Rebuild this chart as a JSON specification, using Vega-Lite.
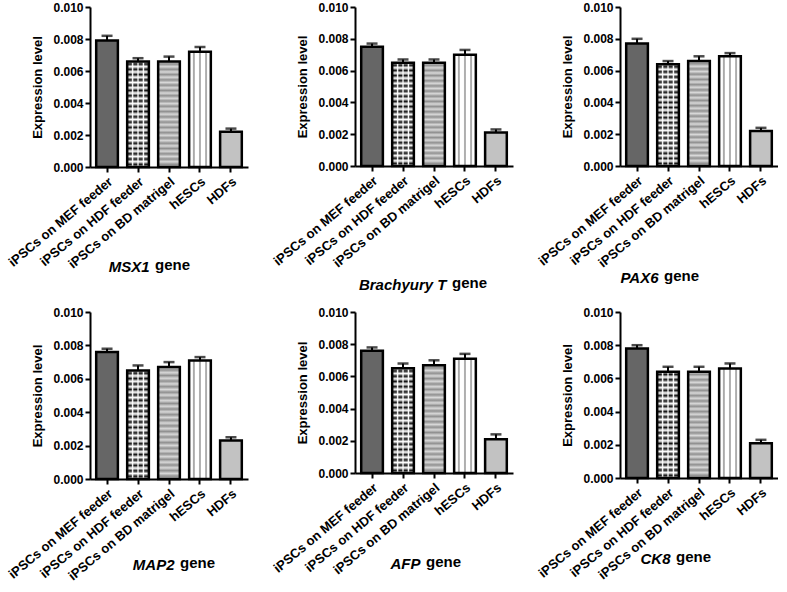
{
"$schema": "https://vega.github.io/schema/vega-lite/v6.json",
"background": "white",
"padding": {"left": 6, "top": 1, "right": 0, "bottom": 0},
"data": {"values": [
{"gene":"MSX1","group":"iPSCs on MEF feeder","value":0.0079,"upper":0.0082},
{"gene":"MSX1","group":"iPSCs on HDF feeder","value":0.0066,"upper":0.0068},
{"gene":"MSX1","group":"iPSCs on BD matrigel","value":0.0066,"upper":0.0069},
{"gene":"MSX1","group":"hESCs","value":0.0072,"upper":0.0075},
{"gene":"MSX1","group":"HDFs","value":0.0022,"upper":0.0024},
{"gene":"Brachyury T","group":"iPSCs on MEF feeder","value":0.0075,"upper":0.0077},
{"gene":"Brachyury T","group":"iPSCs on HDF feeder","value":0.0065,"upper":0.0067},
{"gene":"Brachyury T","group":"iPSCs on BD matrigel","value":0.0065,"upper":0.0067},
{"gene":"Brachyury T","group":"hESCs","value":0.0070,"upper":0.0073},
{"gene":"Brachyury T","group":"HDFs","value":0.0021,"upper":0.0023},
{"gene":"PAX6","group":"iPSCs on MEF feeder","value":0.0077,"upper":0.0080},
{"gene":"PAX6","group":"iPSCs on HDF feeder","value":0.0064,"upper":0.0066},
{"gene":"PAX6","group":"iPSCs on BD matrigel","value":0.0066,"upper":0.0069},
{"gene":"PAX6","group":"hESCs","value":0.0069,"upper":0.0071},
{"gene":"PAX6","group":"HDFs","value":0.0022,"upper":0.0024},
{"gene":"MAP2","group":"iPSCs on MEF feeder","value":0.0076,"upper":0.0078},
{"gene":"MAP2","group":"iPSCs on HDF feeder","value":0.0065,"upper":0.0068},
{"gene":"MAP2","group":"iPSCs on BD matrigel","value":0.0067,"upper":0.0070},
{"gene":"MAP2","group":"hESCs","value":0.0071,"upper":0.0073},
{"gene":"MAP2","group":"HDFs","value":0.0023,"upper":0.0025},
{"gene":"AFP","group":"iPSCs on MEF feeder","value":0.0076,"upper":0.0078},
{"gene":"AFP","group":"iPSCs on HDF feeder","value":0.0065,"upper":0.0068},
{"gene":"AFP","group":"iPSCs on BD matrigel","value":0.0067,"upper":0.0070},
{"gene":"AFP","group":"hESCs","value":0.0071,"upper":0.0074},
{"gene":"AFP","group":"HDFs","value":0.0021,"upper":0.0024},
{"gene":"CK8","group":"iPSCs on MEF feeder","value":0.0078,"upper":0.0080},
{"gene":"CK8","group":"iPSCs on HDF feeder","value":0.0064,"upper":0.0067},
{"gene":"CK8","group":"iPSCs on BD matrigel","value":0.0064,"upper":0.0067},
{"gene":"CK8","group":"hESCs","value":0.0066,"upper":0.0069},
{"gene":"CK8","group":"HDFs","value":0.0021,"upper":0.0023}
]},
"spacing": 14,
"vconcat": [
{"spacing": 23, "hconcat": [
{"width": 158, "height": 160,
 "transform": [{"filter": "datum.gene === 'MSX1'"}],
 "title": {"text": "gene", "dx": 65, "dy": 276},
 "encoding": {
  "x": {"field": "group", "type": "nominal", "scale": {"domain": ["iPSCs on MEF feeder","iPSCs on HDF feeder","iPSCs on BD matrigel","hESCs","HDFs"]}, "axis": {"title": "MSX1", "titleX": 59, "titleY": 104}},
  "y": {"field": "value", "type": "quantitative", "scale": {"domain": [0, 0.01], "nice": false}, "axis": {"title": "Expression level", "values": [0, 0.002, 0.004, 0.006, 0.008, 0.01], "format": ".3f"}}
 },
 "layer": [
  {"mark":{"type":"bar"},"encoding":{"color":{"field":"group","type":"nominal","scale":{"domain":["iPSCs on MEF feeder","iPSCs on HDF feeder","iPSCs on BD matrigel","hESCs","HDFs"],"range":["#666666","#ffffff","#bdbdbd","#ffffff","#c2c2c2"]},"legend":null}}},
  {"transform":[{"filter":"datum.group === 'iPSCs on HDF feeder'"}],"mark":{"type":"bar","fill":{"gradient":"linear","x1":0,"y1":0,"x2":0,"y2":1,"stops":[{"offset":0,"color":"#ffffff"},{"offset":0.025,"color":"#111111"},{"offset":0.05,"color":"#ffffff"},{"offset":0.075,"color":"#111111"},{"offset":0.1,"color":"#ffffff"},{"offset":0.125,"color":"#111111"},{"offset":0.15,"color":"#ffffff"},{"offset":0.175,"color":"#111111"},{"offset":0.2,"color":"#ffffff"},{"offset":0.225,"color":"#111111"},{"offset":0.25,"color":"#ffffff"},{"offset":0.275,"color":"#111111"},{"offset":0.3,"color":"#ffffff"},{"offset":0.325,"color":"#111111"},{"offset":0.35,"color":"#ffffff"},{"offset":0.375,"color":"#111111"},{"offset":0.4,"color":"#ffffff"},{"offset":0.425,"color":"#111111"},{"offset":0.45,"color":"#ffffff"},{"offset":0.475,"color":"#111111"},{"offset":0.5,"color":"#ffffff"},{"offset":0.525,"color":"#111111"},{"offset":0.55,"color":"#ffffff"},{"offset":0.575,"color":"#111111"},{"offset":0.6,"color":"#ffffff"},{"offset":0.625,"color":"#111111"},{"offset":0.65,"color":"#ffffff"},{"offset":0.675,"color":"#111111"},{"offset":0.7,"color":"#ffffff"},{"offset":0.725,"color":"#111111"},{"offset":0.75,"color":"#ffffff"},{"offset":0.775,"color":"#111111"},{"offset":0.8,"color":"#ffffff"},{"offset":0.825,"color":"#111111"},{"offset":0.85,"color":"#ffffff"},{"offset":0.875,"color":"#111111"},{"offset":0.9,"color":"#ffffff"},{"offset":0.925,"color":"#111111"},{"offset":0.95,"color":"#ffffff"},{"offset":0.975,"color":"#111111"},{"offset":1,"color":"#ffffff"}]}}},
  {"transform":[{"filter":"datum.group === 'iPSCs on HDF feeder'"}],"mark":{"type":"bar","fill":{"gradient":"linear","x1":0,"y1":0,"x2":1,"y2":0,"stops":[{"offset":0,"color":"rgba(255,255,255,1)"},{"offset":0.06,"color":"rgba(255,255,255,0)"},{"offset":0.19,"color":"rgba(255,255,255,0)"},{"offset":0.25,"color":"rgba(255,255,255,1)"},{"offset":0.31,"color":"rgba(255,255,255,0)"},{"offset":0.44,"color":"rgba(255,255,255,0)"},{"offset":0.5,"color":"rgba(255,255,255,1)"},{"offset":0.56,"color":"rgba(255,255,255,0)"},{"offset":0.69,"color":"rgba(255,255,255,0)"},{"offset":0.75,"color":"rgba(255,255,255,1)"},{"offset":0.81,"color":"rgba(255,255,255,0)"},{"offset":0.94,"color":"rgba(255,255,255,0)"},{"offset":1,"color":"rgba(255,255,255,1)"}]}}},
  {"transform":[{"filter":"datum.group === 'iPSCs on BD matrigel'"}],"mark":{"type":"bar","fill":{"gradient":"linear","x1":0,"y1":0,"x2":0,"y2":1,"stops":[{"offset":0,"color":"#d8d8d8"},{"offset":0.025,"color":"#909090"},{"offset":0.05,"color":"#d8d8d8"},{"offset":0.075,"color":"#909090"},{"offset":0.1,"color":"#d8d8d8"},{"offset":0.125,"color":"#909090"},{"offset":0.15,"color":"#d8d8d8"},{"offset":0.175,"color":"#909090"},{"offset":0.2,"color":"#d8d8d8"},{"offset":0.225,"color":"#909090"},{"offset":0.25,"color":"#d8d8d8"},{"offset":0.275,"color":"#909090"},{"offset":0.3,"color":"#d8d8d8"},{"offset":0.325,"color":"#909090"},{"offset":0.35,"color":"#d8d8d8"},{"offset":0.375,"color":"#909090"},{"offset":0.4,"color":"#d8d8d8"},{"offset":0.425,"color":"#909090"},{"offset":0.45,"color":"#d8d8d8"},{"offset":0.475,"color":"#909090"},{"offset":0.5,"color":"#d8d8d8"},{"offset":0.525,"color":"#909090"},{"offset":0.55,"color":"#d8d8d8"},{"offset":0.575,"color":"#909090"},{"offset":0.6,"color":"#d8d8d8"},{"offset":0.625,"color":"#909090"},{"offset":0.65,"color":"#d8d8d8"},{"offset":0.675,"color":"#909090"},{"offset":0.7,"color":"#d8d8d8"},{"offset":0.725,"color":"#909090"},{"offset":0.75,"color":"#d8d8d8"},{"offset":0.775,"color":"#909090"},{"offset":0.8,"color":"#d8d8d8"},{"offset":0.825,"color":"#909090"},{"offset":0.85,"color":"#d8d8d8"},{"offset":0.875,"color":"#909090"},{"offset":0.9,"color":"#d8d8d8"},{"offset":0.925,"color":"#909090"},{"offset":0.95,"color":"#d8d8d8"},{"offset":0.975,"color":"#909090"},{"offset":1,"color":"#d8d8d8"}]}}},
  {"transform":[{"filter":"datum.group === 'hESCs'"}],"mark":{"type":"bar","fill":{"gradient":"linear","x1":0,"y1":0,"x2":1,"y2":0,"stops":[{"offset":0,"color":"#ffffff"},{"offset":0.15,"color":"#ffffff"},{"offset":0.22,"color":"#8a8a8a"},{"offset":0.29,"color":"#ffffff"},{"offset":0.43,"color":"#ffffff"},{"offset":0.5,"color":"#8a8a8a"},{"offset":0.57,"color":"#ffffff"},{"offset":0.71,"color":"#ffffff"},{"offset":0.78,"color":"#8a8a8a"},{"offset":0.85,"color":"#ffffff"},{"offset":1,"color":"#ffffff"}]}}},
  {"mark":{"type":"bar","filled":false,"color":"#000000","strokeWidth":2.5}},
  {"mark":{"type":"rule","color":"#000000","strokeWidth":2},"encoding":{"y2":{"field":"upper"}}},
  {"mark":{"type":"tick","color":"#000000","size":11,"thickness":2.5},"encoding":{"y":{"field":"upper","type":"quantitative","scale":{"domain":[0,0.01],"nice":false},"title":"Expression level"}}}
 ]
},
{"width": 158, "height": 159,
 "transform": [{"filter": "datum.gene === 'Brachyury T'"}],
 "title": {"text": "gene", "dx": 97, "dy": 294},
 "encoding": {
  "x": {"field": "group", "type": "nominal", "scale": {"domain": ["iPSCs on MEF feeder","iPSCs on HDF feeder","iPSCs on BD matrigel","hESCs","HDFs"]}, "axis": {"title": "Brachyury T", "titleX": 91, "titleY": 123}},
  "y": {"field": "value", "type": "quantitative", "scale": {"domain": [0, 0.01], "nice": false}, "axis": {"title": "Expression level", "values": [0, 0.002, 0.004, 0.006, 0.008, 0.01], "format": ".3f"}}
 },
 "layer": [
  {"mark":{"type":"bar"},"encoding":{"color":{"field":"group","type":"nominal","scale":{"domain":["iPSCs on MEF feeder","iPSCs on HDF feeder","iPSCs on BD matrigel","hESCs","HDFs"],"range":["#666666","#ffffff","#bdbdbd","#ffffff","#c2c2c2"]},"legend":null}}},
  {"transform":[{"filter":"datum.group === 'iPSCs on HDF feeder'"}],"mark":{"type":"bar","fill":{"gradient":"linear","x1":0,"y1":0,"x2":0,"y2":1,"stops":[{"offset":0,"color":"#ffffff"},{"offset":0.025,"color":"#111111"},{"offset":0.05,"color":"#ffffff"},{"offset":0.075,"color":"#111111"},{"offset":0.1,"color":"#ffffff"},{"offset":0.125,"color":"#111111"},{"offset":0.15,"color":"#ffffff"},{"offset":0.175,"color":"#111111"},{"offset":0.2,"color":"#ffffff"},{"offset":0.225,"color":"#111111"},{"offset":0.25,"color":"#ffffff"},{"offset":0.275,"color":"#111111"},{"offset":0.3,"color":"#ffffff"},{"offset":0.325,"color":"#111111"},{"offset":0.35,"color":"#ffffff"},{"offset":0.375,"color":"#111111"},{"offset":0.4,"color":"#ffffff"},{"offset":0.425,"color":"#111111"},{"offset":0.45,"color":"#ffffff"},{"offset":0.475,"color":"#111111"},{"offset":0.5,"color":"#ffffff"},{"offset":0.525,"color":"#111111"},{"offset":0.55,"color":"#ffffff"},{"offset":0.575,"color":"#111111"},{"offset":0.6,"color":"#ffffff"},{"offset":0.625,"color":"#111111"},{"offset":0.65,"color":"#ffffff"},{"offset":0.675,"color":"#111111"},{"offset":0.7,"color":"#ffffff"},{"offset":0.725,"color":"#111111"},{"offset":0.75,"color":"#ffffff"},{"offset":0.775,"color":"#111111"},{"offset":0.8,"color":"#ffffff"},{"offset":0.825,"color":"#111111"},{"offset":0.85,"color":"#ffffff"},{"offset":0.875,"color":"#111111"},{"offset":0.9,"color":"#ffffff"},{"offset":0.925,"color":"#111111"},{"offset":0.95,"color":"#ffffff"},{"offset":0.975,"color":"#111111"},{"offset":1,"color":"#ffffff"}]}}},
  {"transform":[{"filter":"datum.group === 'iPSCs on HDF feeder'"}],"mark":{"type":"bar","fill":{"gradient":"linear","x1":0,"y1":0,"x2":1,"y2":0,"stops":[{"offset":0,"color":"rgba(255,255,255,1)"},{"offset":0.06,"color":"rgba(255,255,255,0)"},{"offset":0.19,"color":"rgba(255,255,255,0)"},{"offset":0.25,"color":"rgba(255,255,255,1)"},{"offset":0.31,"color":"rgba(255,255,255,0)"},{"offset":0.44,"color":"rgba(255,255,255,0)"},{"offset":0.5,"color":"rgba(255,255,255,1)"},{"offset":0.56,"color":"rgba(255,255,255,0)"},{"offset":0.69,"color":"rgba(255,255,255,0)"},{"offset":0.75,"color":"rgba(255,255,255,1)"},{"offset":0.81,"color":"rgba(255,255,255,0)"},{"offset":0.94,"color":"rgba(255,255,255,0)"},{"offset":1,"color":"rgba(255,255,255,1)"}]}}},
  {"transform":[{"filter":"datum.group === 'iPSCs on BD matrigel'"}],"mark":{"type":"bar","fill":{"gradient":"linear","x1":0,"y1":0,"x2":0,"y2":1,"stops":[{"offset":0,"color":"#d8d8d8"},{"offset":0.025,"color":"#909090"},{"offset":0.05,"color":"#d8d8d8"},{"offset":0.075,"color":"#909090"},{"offset":0.1,"color":"#d8d8d8"},{"offset":0.125,"color":"#909090"},{"offset":0.15,"color":"#d8d8d8"},{"offset":0.175,"color":"#909090"},{"offset":0.2,"color":"#d8d8d8"},{"offset":0.225,"color":"#909090"},{"offset":0.25,"color":"#d8d8d8"},{"offset":0.275,"color":"#909090"},{"offset":0.3,"color":"#d8d8d8"},{"offset":0.325,"color":"#909090"},{"offset":0.35,"color":"#d8d8d8"},{"offset":0.375,"color":"#909090"},{"offset":0.4,"color":"#d8d8d8"},{"offset":0.425,"color":"#909090"},{"offset":0.45,"color":"#d8d8d8"},{"offset":0.475,"color":"#909090"},{"offset":0.5,"color":"#d8d8d8"},{"offset":0.525,"color":"#909090"},{"offset":0.55,"color":"#d8d8d8"},{"offset":0.575,"color":"#909090"},{"offset":0.6,"color":"#d8d8d8"},{"offset":0.625,"color":"#909090"},{"offset":0.65,"color":"#d8d8d8"},{"offset":0.675,"color":"#909090"},{"offset":0.7,"color":"#d8d8d8"},{"offset":0.725,"color":"#909090"},{"offset":0.75,"color":"#d8d8d8"},{"offset":0.775,"color":"#909090"},{"offset":0.8,"color":"#d8d8d8"},{"offset":0.825,"color":"#909090"},{"offset":0.85,"color":"#d8d8d8"},{"offset":0.875,"color":"#909090"},{"offset":0.9,"color":"#d8d8d8"},{"offset":0.925,"color":"#909090"},{"offset":0.95,"color":"#d8d8d8"},{"offset":0.975,"color":"#909090"},{"offset":1,"color":"#d8d8d8"}]}}},
  {"transform":[{"filter":"datum.group === 'hESCs'"}],"mark":{"type":"bar","fill":{"gradient":"linear","x1":0,"y1":0,"x2":1,"y2":0,"stops":[{"offset":0,"color":"#ffffff"},{"offset":0.15,"color":"#ffffff"},{"offset":0.22,"color":"#8a8a8a"},{"offset":0.29,"color":"#ffffff"},{"offset":0.43,"color":"#ffffff"},{"offset":0.5,"color":"#8a8a8a"},{"offset":0.57,"color":"#ffffff"},{"offset":0.71,"color":"#ffffff"},{"offset":0.78,"color":"#8a8a8a"},{"offset":0.85,"color":"#ffffff"},{"offset":1,"color":"#ffffff"}]}}},
  {"mark":{"type":"bar","filled":false,"color":"#000000","strokeWidth":2.5}},
  {"mark":{"type":"rule","color":"#000000","strokeWidth":2},"encoding":{"y2":{"field":"upper"}}},
  {"mark":{"type":"tick","color":"#000000","size":11,"thickness":2.5},"encoding":{"y":{"field":"upper","type":"quantitative","scale":{"domain":[0,0.01],"nice":false},"title":"Expression level"}}}
 ]
},
{"width": 158, "height": 159,
 "transform": [{"filter": "datum.gene === 'PAX6'"}],
 "title": {"text": "gene", "dx": 44, "dy": 287},
 "encoding": {
  "x": {"field": "group", "type": "nominal", "scale": {"domain": ["iPSCs on MEF feeder","iPSCs on HDF feeder","iPSCs on BD matrigel","hESCs","HDFs"]}, "axis": {"title": "PAX6", "titleX": 38, "titleY": 116}},
  "y": {"field": "value", "type": "quantitative", "scale": {"domain": [0, 0.01], "nice": false}, "axis": {"title": "Expression level", "values": [0, 0.002, 0.004, 0.006, 0.008, 0.01], "format": ".3f"}}
 },
 "layer": [
  {"mark":{"type":"bar"},"encoding":{"color":{"field":"group","type":"nominal","scale":{"domain":["iPSCs on MEF feeder","iPSCs on HDF feeder","iPSCs on BD matrigel","hESCs","HDFs"],"range":["#666666","#ffffff","#bdbdbd","#ffffff","#c2c2c2"]},"legend":null}}},
  {"transform":[{"filter":"datum.group === 'iPSCs on HDF feeder'"}],"mark":{"type":"bar","fill":{"gradient":"linear","x1":0,"y1":0,"x2":0,"y2":1,"stops":[{"offset":0,"color":"#ffffff"},{"offset":0.025,"color":"#111111"},{"offset":0.05,"color":"#ffffff"},{"offset":0.075,"color":"#111111"},{"offset":0.1,"color":"#ffffff"},{"offset":0.125,"color":"#111111"},{"offset":0.15,"color":"#ffffff"},{"offset":0.175,"color":"#111111"},{"offset":0.2,"color":"#ffffff"},{"offset":0.225,"color":"#111111"},{"offset":0.25,"color":"#ffffff"},{"offset":0.275,"color":"#111111"},{"offset":0.3,"color":"#ffffff"},{"offset":0.325,"color":"#111111"},{"offset":0.35,"color":"#ffffff"},{"offset":0.375,"color":"#111111"},{"offset":0.4,"color":"#ffffff"},{"offset":0.425,"color":"#111111"},{"offset":0.45,"color":"#ffffff"},{"offset":0.475,"color":"#111111"},{"offset":0.5,"color":"#ffffff"},{"offset":0.525,"color":"#111111"},{"offset":0.55,"color":"#ffffff"},{"offset":0.575,"color":"#111111"},{"offset":0.6,"color":"#ffffff"},{"offset":0.625,"color":"#111111"},{"offset":0.65,"color":"#ffffff"},{"offset":0.675,"color":"#111111"},{"offset":0.7,"color":"#ffffff"},{"offset":0.725,"color":"#111111"},{"offset":0.75,"color":"#ffffff"},{"offset":0.775,"color":"#111111"},{"offset":0.8,"color":"#ffffff"},{"offset":0.825,"color":"#111111"},{"offset":0.85,"color":"#ffffff"},{"offset":0.875,"color":"#111111"},{"offset":0.9,"color":"#ffffff"},{"offset":0.925,"color":"#111111"},{"offset":0.95,"color":"#ffffff"},{"offset":0.975,"color":"#111111"},{"offset":1,"color":"#ffffff"}]}}},
  {"transform":[{"filter":"datum.group === 'iPSCs on HDF feeder'"}],"mark":{"type":"bar","fill":{"gradient":"linear","x1":0,"y1":0,"x2":1,"y2":0,"stops":[{"offset":0,"color":"rgba(255,255,255,1)"},{"offset":0.06,"color":"rgba(255,255,255,0)"},{"offset":0.19,"color":"rgba(255,255,255,0)"},{"offset":0.25,"color":"rgba(255,255,255,1)"},{"offset":0.31,"color":"rgba(255,255,255,0)"},{"offset":0.44,"color":"rgba(255,255,255,0)"},{"offset":0.5,"color":"rgba(255,255,255,1)"},{"offset":0.56,"color":"rgba(255,255,255,0)"},{"offset":0.69,"color":"rgba(255,255,255,0)"},{"offset":0.75,"color":"rgba(255,255,255,1)"},{"offset":0.81,"color":"rgba(255,255,255,0)"},{"offset":0.94,"color":"rgba(255,255,255,0)"},{"offset":1,"color":"rgba(255,255,255,1)"}]}}},
  {"transform":[{"filter":"datum.group === 'iPSCs on BD matrigel'"}],"mark":{"type":"bar","fill":{"gradient":"linear","x1":0,"y1":0,"x2":0,"y2":1,"stops":[{"offset":0,"color":"#d8d8d8"},{"offset":0.025,"color":"#909090"},{"offset":0.05,"color":"#d8d8d8"},{"offset":0.075,"color":"#909090"},{"offset":0.1,"color":"#d8d8d8"},{"offset":0.125,"color":"#909090"},{"offset":0.15,"color":"#d8d8d8"},{"offset":0.175,"color":"#909090"},{"offset":0.2,"color":"#d8d8d8"},{"offset":0.225,"color":"#909090"},{"offset":0.25,"color":"#d8d8d8"},{"offset":0.275,"color":"#909090"},{"offset":0.3,"color":"#d8d8d8"},{"offset":0.325,"color":"#909090"},{"offset":0.35,"color":"#d8d8d8"},{"offset":0.375,"color":"#909090"},{"offset":0.4,"color":"#d8d8d8"},{"offset":0.425,"color":"#909090"},{"offset":0.45,"color":"#d8d8d8"},{"offset":0.475,"color":"#909090"},{"offset":0.5,"color":"#d8d8d8"},{"offset":0.525,"color":"#909090"},{"offset":0.55,"color":"#d8d8d8"},{"offset":0.575,"color":"#909090"},{"offset":0.6,"color":"#d8d8d8"},{"offset":0.625,"color":"#909090"},{"offset":0.65,"color":"#d8d8d8"},{"offset":0.675,"color":"#909090"},{"offset":0.7,"color":"#d8d8d8"},{"offset":0.725,"color":"#909090"},{"offset":0.75,"color":"#d8d8d8"},{"offset":0.775,"color":"#909090"},{"offset":0.8,"color":"#d8d8d8"},{"offset":0.825,"color":"#909090"},{"offset":0.85,"color":"#d8d8d8"},{"offset":0.875,"color":"#909090"},{"offset":0.9,"color":"#d8d8d8"},{"offset":0.925,"color":"#909090"},{"offset":0.95,"color":"#d8d8d8"},{"offset":0.975,"color":"#909090"},{"offset":1,"color":"#d8d8d8"}]}}},
  {"transform":[{"filter":"datum.group === 'hESCs'"}],"mark":{"type":"bar","fill":{"gradient":"linear","x1":0,"y1":0,"x2":1,"y2":0,"stops":[{"offset":0,"color":"#ffffff"},{"offset":0.15,"color":"#ffffff"},{"offset":0.22,"color":"#8a8a8a"},{"offset":0.29,"color":"#ffffff"},{"offset":0.43,"color":"#ffffff"},{"offset":0.5,"color":"#8a8a8a"},{"offset":0.57,"color":"#ffffff"},{"offset":0.71,"color":"#ffffff"},{"offset":0.78,"color":"#8a8a8a"},{"offset":0.85,"color":"#ffffff"},{"offset":1,"color":"#ffffff"}]}}},
  {"mark":{"type":"bar","filled":false,"color":"#000000","strokeWidth":2.5}},
  {"mark":{"type":"rule","color":"#000000","strokeWidth":2},"encoding":{"y2":{"field":"upper"}}},
  {"mark":{"type":"tick","color":"#000000","size":11,"thickness":2.5},"encoding":{"y":{"field":"upper","type":"quantitative","scale":{"domain":[0,0.01],"nice":false},"title":"Expression level"}}}
 ]
}
]},
{"spacing": 23, "hconcat": [
{"width": 158, "height": 167,
 "transform": [{"filter": "datum.gene === 'MAP2'"}],
 "title": {"text": "gene", "dx": 90, "dy": 269},
 "encoding": {
  "x": {"field": "group", "type": "nominal", "scale": {"domain": ["iPSCs on MEF feeder","iPSCs on HDF feeder","iPSCs on BD matrigel","hESCs","HDFs"]}, "axis": {"title": "MAP2", "titleX": 84, "titleY": 90}},
  "y": {"field": "value", "type": "quantitative", "scale": {"domain": [0, 0.01], "nice": false}, "axis": {"title": "Expression level", "values": [0, 0.002, 0.004, 0.006, 0.008, 0.01], "format": ".3f"}}
 },
 "layer": [
  {"mark":{"type":"bar"},"encoding":{"color":{"field":"group","type":"nominal","scale":{"domain":["iPSCs on MEF feeder","iPSCs on HDF feeder","iPSCs on BD matrigel","hESCs","HDFs"],"range":["#666666","#ffffff","#bdbdbd","#ffffff","#c2c2c2"]},"legend":null}}},
  {"transform":[{"filter":"datum.group === 'iPSCs on HDF feeder'"}],"mark":{"type":"bar","fill":{"gradient":"linear","x1":0,"y1":0,"x2":0,"y2":1,"stops":[{"offset":0,"color":"#ffffff"},{"offset":0.025,"color":"#111111"},{"offset":0.05,"color":"#ffffff"},{"offset":0.075,"color":"#111111"},{"offset":0.1,"color":"#ffffff"},{"offset":0.125,"color":"#111111"},{"offset":0.15,"color":"#ffffff"},{"offset":0.175,"color":"#111111"},{"offset":0.2,"color":"#ffffff"},{"offset":0.225,"color":"#111111"},{"offset":0.25,"color":"#ffffff"},{"offset":0.275,"color":"#111111"},{"offset":0.3,"color":"#ffffff"},{"offset":0.325,"color":"#111111"},{"offset":0.35,"color":"#ffffff"},{"offset":0.375,"color":"#111111"},{"offset":0.4,"color":"#ffffff"},{"offset":0.425,"color":"#111111"},{"offset":0.45,"color":"#ffffff"},{"offset":0.475,"color":"#111111"},{"offset":0.5,"color":"#ffffff"},{"offset":0.525,"color":"#111111"},{"offset":0.55,"color":"#ffffff"},{"offset":0.575,"color":"#111111"},{"offset":0.6,"color":"#ffffff"},{"offset":0.625,"color":"#111111"},{"offset":0.65,"color":"#ffffff"},{"offset":0.675,"color":"#111111"},{"offset":0.7,"color":"#ffffff"},{"offset":0.725,"color":"#111111"},{"offset":0.75,"color":"#ffffff"},{"offset":0.775,"color":"#111111"},{"offset":0.8,"color":"#ffffff"},{"offset":0.825,"color":"#111111"},{"offset":0.85,"color":"#ffffff"},{"offset":0.875,"color":"#111111"},{"offset":0.9,"color":"#ffffff"},{"offset":0.925,"color":"#111111"},{"offset":0.95,"color":"#ffffff"},{"offset":0.975,"color":"#111111"},{"offset":1,"color":"#ffffff"}]}}},
  {"transform":[{"filter":"datum.group === 'iPSCs on HDF feeder'"}],"mark":{"type":"bar","fill":{"gradient":"linear","x1":0,"y1":0,"x2":1,"y2":0,"stops":[{"offset":0,"color":"rgba(255,255,255,1)"},{"offset":0.06,"color":"rgba(255,255,255,0)"},{"offset":0.19,"color":"rgba(255,255,255,0)"},{"offset":0.25,"color":"rgba(255,255,255,1)"},{"offset":0.31,"color":"rgba(255,255,255,0)"},{"offset":0.44,"color":"rgba(255,255,255,0)"},{"offset":0.5,"color":"rgba(255,255,255,1)"},{"offset":0.56,"color":"rgba(255,255,255,0)"},{"offset":0.69,"color":"rgba(255,255,255,0)"},{"offset":0.75,"color":"rgba(255,255,255,1)"},{"offset":0.81,"color":"rgba(255,255,255,0)"},{"offset":0.94,"color":"rgba(255,255,255,0)"},{"offset":1,"color":"rgba(255,255,255,1)"}]}}},
  {"transform":[{"filter":"datum.group === 'iPSCs on BD matrigel'"}],"mark":{"type":"bar","fill":{"gradient":"linear","x1":0,"y1":0,"x2":0,"y2":1,"stops":[{"offset":0,"color":"#d8d8d8"},{"offset":0.025,"color":"#909090"},{"offset":0.05,"color":"#d8d8d8"},{"offset":0.075,"color":"#909090"},{"offset":0.1,"color":"#d8d8d8"},{"offset":0.125,"color":"#909090"},{"offset":0.15,"color":"#d8d8d8"},{"offset":0.175,"color":"#909090"},{"offset":0.2,"color":"#d8d8d8"},{"offset":0.225,"color":"#909090"},{"offset":0.25,"color":"#d8d8d8"},{"offset":0.275,"color":"#909090"},{"offset":0.3,"color":"#d8d8d8"},{"offset":0.325,"color":"#909090"},{"offset":0.35,"color":"#d8d8d8"},{"offset":0.375,"color":"#909090"},{"offset":0.4,"color":"#d8d8d8"},{"offset":0.425,"color":"#909090"},{"offset":0.45,"color":"#d8d8d8"},{"offset":0.475,"color":"#909090"},{"offset":0.5,"color":"#d8d8d8"},{"offset":0.525,"color":"#909090"},{"offset":0.55,"color":"#d8d8d8"},{"offset":0.575,"color":"#909090"},{"offset":0.6,"color":"#d8d8d8"},{"offset":0.625,"color":"#909090"},{"offset":0.65,"color":"#d8d8d8"},{"offset":0.675,"color":"#909090"},{"offset":0.7,"color":"#d8d8d8"},{"offset":0.725,"color":"#909090"},{"offset":0.75,"color":"#d8d8d8"},{"offset":0.775,"color":"#909090"},{"offset":0.8,"color":"#d8d8d8"},{"offset":0.825,"color":"#909090"},{"offset":0.85,"color":"#d8d8d8"},{"offset":0.875,"color":"#909090"},{"offset":0.9,"color":"#d8d8d8"},{"offset":0.925,"color":"#909090"},{"offset":0.95,"color":"#d8d8d8"},{"offset":0.975,"color":"#909090"},{"offset":1,"color":"#d8d8d8"}]}}},
  {"transform":[{"filter":"datum.group === 'hESCs'"}],"mark":{"type":"bar","fill":{"gradient":"linear","x1":0,"y1":0,"x2":1,"y2":0,"stops":[{"offset":0,"color":"#ffffff"},{"offset":0.15,"color":"#ffffff"},{"offset":0.22,"color":"#8a8a8a"},{"offset":0.29,"color":"#ffffff"},{"offset":0.43,"color":"#ffffff"},{"offset":0.5,"color":"#8a8a8a"},{"offset":0.57,"color":"#ffffff"},{"offset":0.71,"color":"#ffffff"},{"offset":0.78,"color":"#8a8a8a"},{"offset":0.85,"color":"#ffffff"},{"offset":1,"color":"#ffffff"}]}}},
  {"mark":{"type":"bar","filled":false,"color":"#000000","strokeWidth":2.5}},
  {"mark":{"type":"rule","color":"#000000","strokeWidth":2},"encoding":{"y2":{"field":"upper"}}},
  {"mark":{"type":"tick","color":"#000000","size":11,"thickness":2.5},"encoding":{"y":{"field":"upper","type":"quantitative","scale":{"domain":[0,0.01],"nice":false},"title":"Expression level"}}}
 ]
},
{"width": 158, "height": 161,
 "transform": [{"filter": "datum.gene === 'AFP'"}],
 "title": {"text": "gene", "dx": 71, "dy": 268},
 "encoding": {
  "x": {"field": "group", "type": "nominal", "scale": {"domain": ["iPSCs on MEF feeder","iPSCs on HDF feeder","iPSCs on BD matrigel","hESCs","HDFs"]}, "axis": {"title": "AFP", "titleX": 65, "titleY": 95}},
  "y": {"field": "value", "type": "quantitative", "scale": {"domain": [0, 0.01], "nice": false}, "axis": {"title": "Expression level", "values": [0, 0.002, 0.004, 0.006, 0.008, 0.01], "format": ".3f"}}
 },
 "layer": [
  {"mark":{"type":"bar"},"encoding":{"color":{"field":"group","type":"nominal","scale":{"domain":["iPSCs on MEF feeder","iPSCs on HDF feeder","iPSCs on BD matrigel","hESCs","HDFs"],"range":["#666666","#ffffff","#bdbdbd","#ffffff","#c2c2c2"]},"legend":null}}},
  {"transform":[{"filter":"datum.group === 'iPSCs on HDF feeder'"}],"mark":{"type":"bar","fill":{"gradient":"linear","x1":0,"y1":0,"x2":0,"y2":1,"stops":[{"offset":0,"color":"#ffffff"},{"offset":0.025,"color":"#111111"},{"offset":0.05,"color":"#ffffff"},{"offset":0.075,"color":"#111111"},{"offset":0.1,"color":"#ffffff"},{"offset":0.125,"color":"#111111"},{"offset":0.15,"color":"#ffffff"},{"offset":0.175,"color":"#111111"},{"offset":0.2,"color":"#ffffff"},{"offset":0.225,"color":"#111111"},{"offset":0.25,"color":"#ffffff"},{"offset":0.275,"color":"#111111"},{"offset":0.3,"color":"#ffffff"},{"offset":0.325,"color":"#111111"},{"offset":0.35,"color":"#ffffff"},{"offset":0.375,"color":"#111111"},{"offset":0.4,"color":"#ffffff"},{"offset":0.425,"color":"#111111"},{"offset":0.45,"color":"#ffffff"},{"offset":0.475,"color":"#111111"},{"offset":0.5,"color":"#ffffff"},{"offset":0.525,"color":"#111111"},{"offset":0.55,"color":"#ffffff"},{"offset":0.575,"color":"#111111"},{"offset":0.6,"color":"#ffffff"},{"offset":0.625,"color":"#111111"},{"offset":0.65,"color":"#ffffff"},{"offset":0.675,"color":"#111111"},{"offset":0.7,"color":"#ffffff"},{"offset":0.725,"color":"#111111"},{"offset":0.75,"color":"#ffffff"},{"offset":0.775,"color":"#111111"},{"offset":0.8,"color":"#ffffff"},{"offset":0.825,"color":"#111111"},{"offset":0.85,"color":"#ffffff"},{"offset":0.875,"color":"#111111"},{"offset":0.9,"color":"#ffffff"},{"offset":0.925,"color":"#111111"},{"offset":0.95,"color":"#ffffff"},{"offset":0.975,"color":"#111111"},{"offset":1,"color":"#ffffff"}]}}},
  {"transform":[{"filter":"datum.group === 'iPSCs on HDF feeder'"}],"mark":{"type":"bar","fill":{"gradient":"linear","x1":0,"y1":0,"x2":1,"y2":0,"stops":[{"offset":0,"color":"rgba(255,255,255,1)"},{"offset":0.06,"color":"rgba(255,255,255,0)"},{"offset":0.19,"color":"rgba(255,255,255,0)"},{"offset":0.25,"color":"rgba(255,255,255,1)"},{"offset":0.31,"color":"rgba(255,255,255,0)"},{"offset":0.44,"color":"rgba(255,255,255,0)"},{"offset":0.5,"color":"rgba(255,255,255,1)"},{"offset":0.56,"color":"rgba(255,255,255,0)"},{"offset":0.69,"color":"rgba(255,255,255,0)"},{"offset":0.75,"color":"rgba(255,255,255,1)"},{"offset":0.81,"color":"rgba(255,255,255,0)"},{"offset":0.94,"color":"rgba(255,255,255,0)"},{"offset":1,"color":"rgba(255,255,255,1)"}]}}},
  {"transform":[{"filter":"datum.group === 'iPSCs on BD matrigel'"}],"mark":{"type":"bar","fill":{"gradient":"linear","x1":0,"y1":0,"x2":0,"y2":1,"stops":[{"offset":0,"color":"#d8d8d8"},{"offset":0.025,"color":"#909090"},{"offset":0.05,"color":"#d8d8d8"},{"offset":0.075,"color":"#909090"},{"offset":0.1,"color":"#d8d8d8"},{"offset":0.125,"color":"#909090"},{"offset":0.15,"color":"#d8d8d8"},{"offset":0.175,"color":"#909090"},{"offset":0.2,"color":"#d8d8d8"},{"offset":0.225,"color":"#909090"},{"offset":0.25,"color":"#d8d8d8"},{"offset":0.275,"color":"#909090"},{"offset":0.3,"color":"#d8d8d8"},{"offset":0.325,"color":"#909090"},{"offset":0.35,"color":"#d8d8d8"},{"offset":0.375,"color":"#909090"},{"offset":0.4,"color":"#d8d8d8"},{"offset":0.425,"color":"#909090"},{"offset":0.45,"color":"#d8d8d8"},{"offset":0.475,"color":"#909090"},{"offset":0.5,"color":"#d8d8d8"},{"offset":0.525,"color":"#909090"},{"offset":0.55,"color":"#d8d8d8"},{"offset":0.575,"color":"#909090"},{"offset":0.6,"color":"#d8d8d8"},{"offset":0.625,"color":"#909090"},{"offset":0.65,"color":"#d8d8d8"},{"offset":0.675,"color":"#909090"},{"offset":0.7,"color":"#d8d8d8"},{"offset":0.725,"color":"#909090"},{"offset":0.75,"color":"#d8d8d8"},{"offset":0.775,"color":"#909090"},{"offset":0.8,"color":"#d8d8d8"},{"offset":0.825,"color":"#909090"},{"offset":0.85,"color":"#d8d8d8"},{"offset":0.875,"color":"#909090"},{"offset":0.9,"color":"#d8d8d8"},{"offset":0.925,"color":"#909090"},{"offset":0.95,"color":"#d8d8d8"},{"offset":0.975,"color":"#909090"},{"offset":1,"color":"#d8d8d8"}]}}},
  {"transform":[{"filter":"datum.group === 'hESCs'"}],"mark":{"type":"bar","fill":{"gradient":"linear","x1":0,"y1":0,"x2":1,"y2":0,"stops":[{"offset":0,"color":"#ffffff"},{"offset":0.15,"color":"#ffffff"},{"offset":0.22,"color":"#8a8a8a"},{"offset":0.29,"color":"#ffffff"},{"offset":0.43,"color":"#ffffff"},{"offset":0.5,"color":"#8a8a8a"},{"offset":0.57,"color":"#ffffff"},{"offset":0.71,"color":"#ffffff"},{"offset":0.78,"color":"#8a8a8a"},{"offset":0.85,"color":"#ffffff"},{"offset":1,"color":"#ffffff"}]}}},
  {"mark":{"type":"bar","filled":false,"color":"#000000","strokeWidth":2.5}},
  {"mark":{"type":"rule","color":"#000000","strokeWidth":2},"encoding":{"y2":{"field":"upper"}}},
  {"mark":{"type":"tick","color":"#000000","size":11,"thickness":2.5},"encoding":{"y":{"field":"upper","type":"quantitative","scale":{"domain":[0,0.01],"nice":false},"title":"Expression level"}}}
 ]
},
{"width": 158, "height": 166,
 "transform": [{"filter": "datum.gene === 'CK8'"}],
 "title": {"text": "gene", "dx": 56, "dy": 263},
 "encoding": {
  "x": {"field": "group", "type": "nominal", "scale": {"domain": ["iPSCs on MEF feeder","iPSCs on HDF feeder","iPSCs on BD matrigel","hESCs","HDFs"]}, "axis": {"title": "CK8", "titleX": 50, "titleY": 85}},
  "y": {"field": "value", "type": "quantitative", "scale": {"domain": [0, 0.01], "nice": false}, "axis": {"title": "Expression level", "values": [0, 0.002, 0.004, 0.006, 0.008, 0.01], "format": ".3f"}}
 },
 "layer": [
  {"mark":{"type":"bar"},"encoding":{"color":{"field":"group","type":"nominal","scale":{"domain":["iPSCs on MEF feeder","iPSCs on HDF feeder","iPSCs on BD matrigel","hESCs","HDFs"],"range":["#666666","#ffffff","#bdbdbd","#ffffff","#c2c2c2"]},"legend":null}}},
  {"transform":[{"filter":"datum.group === 'iPSCs on HDF feeder'"}],"mark":{"type":"bar","fill":{"gradient":"linear","x1":0,"y1":0,"x2":0,"y2":1,"stops":[{"offset":0,"color":"#ffffff"},{"offset":0.025,"color":"#111111"},{"offset":0.05,"color":"#ffffff"},{"offset":0.075,"color":"#111111"},{"offset":0.1,"color":"#ffffff"},{"offset":0.125,"color":"#111111"},{"offset":0.15,"color":"#ffffff"},{"offset":0.175,"color":"#111111"},{"offset":0.2,"color":"#ffffff"},{"offset":0.225,"color":"#111111"},{"offset":0.25,"color":"#ffffff"},{"offset":0.275,"color":"#111111"},{"offset":0.3,"color":"#ffffff"},{"offset":0.325,"color":"#111111"},{"offset":0.35,"color":"#ffffff"},{"offset":0.375,"color":"#111111"},{"offset":0.4,"color":"#ffffff"},{"offset":0.425,"color":"#111111"},{"offset":0.45,"color":"#ffffff"},{"offset":0.475,"color":"#111111"},{"offset":0.5,"color":"#ffffff"},{"offset":0.525,"color":"#111111"},{"offset":0.55,"color":"#ffffff"},{"offset":0.575,"color":"#111111"},{"offset":0.6,"color":"#ffffff"},{"offset":0.625,"color":"#111111"},{"offset":0.65,"color":"#ffffff"},{"offset":0.675,"color":"#111111"},{"offset":0.7,"color":"#ffffff"},{"offset":0.725,"color":"#111111"},{"offset":0.75,"color":"#ffffff"},{"offset":0.775,"color":"#111111"},{"offset":0.8,"color":"#ffffff"},{"offset":0.825,"color":"#111111"},{"offset":0.85,"color":"#ffffff"},{"offset":0.875,"color":"#111111"},{"offset":0.9,"color":"#ffffff"},{"offset":0.925,"color":"#111111"},{"offset":0.95,"color":"#ffffff"},{"offset":0.975,"color":"#111111"},{"offset":1,"color":"#ffffff"}]}}},
  {"transform":[{"filter":"datum.group === 'iPSCs on HDF feeder'"}],"mark":{"type":"bar","fill":{"gradient":"linear","x1":0,"y1":0,"x2":1,"y2":0,"stops":[{"offset":0,"color":"rgba(255,255,255,1)"},{"offset":0.06,"color":"rgba(255,255,255,0)"},{"offset":0.19,"color":"rgba(255,255,255,0)"},{"offset":0.25,"color":"rgba(255,255,255,1)"},{"offset":0.31,"color":"rgba(255,255,255,0)"},{"offset":0.44,"color":"rgba(255,255,255,0)"},{"offset":0.5,"color":"rgba(255,255,255,1)"},{"offset":0.56,"color":"rgba(255,255,255,0)"},{"offset":0.69,"color":"rgba(255,255,255,0)"},{"offset":0.75,"color":"rgba(255,255,255,1)"},{"offset":0.81,"color":"rgba(255,255,255,0)"},{"offset":0.94,"color":"rgba(255,255,255,0)"},{"offset":1,"color":"rgba(255,255,255,1)"}]}}},
  {"transform":[{"filter":"datum.group === 'iPSCs on BD matrigel'"}],"mark":{"type":"bar","fill":{"gradient":"linear","x1":0,"y1":0,"x2":0,"y2":1,"stops":[{"offset":0,"color":"#d8d8d8"},{"offset":0.025,"color":"#909090"},{"offset":0.05,"color":"#d8d8d8"},{"offset":0.075,"color":"#909090"},{"offset":0.1,"color":"#d8d8d8"},{"offset":0.125,"color":"#909090"},{"offset":0.15,"color":"#d8d8d8"},{"offset":0.175,"color":"#909090"},{"offset":0.2,"color":"#d8d8d8"},{"offset":0.225,"color":"#909090"},{"offset":0.25,"color":"#d8d8d8"},{"offset":0.275,"color":"#909090"},{"offset":0.3,"color":"#d8d8d8"},{"offset":0.325,"color":"#909090"},{"offset":0.35,"color":"#d8d8d8"},{"offset":0.375,"color":"#909090"},{"offset":0.4,"color":"#d8d8d8"},{"offset":0.425,"color":"#909090"},{"offset":0.45,"color":"#d8d8d8"},{"offset":0.475,"color":"#909090"},{"offset":0.5,"color":"#d8d8d8"},{"offset":0.525,"color":"#909090"},{"offset":0.55,"color":"#d8d8d8"},{"offset":0.575,"color":"#909090"},{"offset":0.6,"color":"#d8d8d8"},{"offset":0.625,"color":"#909090"},{"offset":0.65,"color":"#d8d8d8"},{"offset":0.675,"color":"#909090"},{"offset":0.7,"color":"#d8d8d8"},{"offset":0.725,"color":"#909090"},{"offset":0.75,"color":"#d8d8d8"},{"offset":0.775,"color":"#909090"},{"offset":0.8,"color":"#d8d8d8"},{"offset":0.825,"color":"#909090"},{"offset":0.85,"color":"#d8d8d8"},{"offset":0.875,"color":"#909090"},{"offset":0.9,"color":"#d8d8d8"},{"offset":0.925,"color":"#909090"},{"offset":0.95,"color":"#d8d8d8"},{"offset":0.975,"color":"#909090"},{"offset":1,"color":"#d8d8d8"}]}}},
  {"transform":[{"filter":"datum.group === 'hESCs'"}],"mark":{"type":"bar","fill":{"gradient":"linear","x1":0,"y1":0,"x2":1,"y2":0,"stops":[{"offset":0,"color":"#ffffff"},{"offset":0.15,"color":"#ffffff"},{"offset":0.22,"color":"#8a8a8a"},{"offset":0.29,"color":"#ffffff"},{"offset":0.43,"color":"#ffffff"},{"offset":0.5,"color":"#8a8a8a"},{"offset":0.57,"color":"#ffffff"},{"offset":0.71,"color":"#ffffff"},{"offset":0.78,"color":"#8a8a8a"},{"offset":0.85,"color":"#ffffff"},{"offset":1,"color":"#ffffff"}]}}},
  {"mark":{"type":"bar","filled":false,"color":"#000000","strokeWidth":2.5}},
  {"mark":{"type":"rule","color":"#000000","strokeWidth":2},"encoding":{"y2":{"field":"upper"}}},
  {"mark":{"type":"tick","color":"#000000","size":11,"thickness":2.5},"encoding":{"y":{"field":"upper","type":"quantitative","scale":{"domain":[0,0.01],"nice":false},"title":"Expression level"}}}
 ]
}
]}
],
"config": {
 "view": {"stroke": null},
 "font": "Liberation Sans",
 "axis": {"domainColor": "#000000", "domainWidth": 2, "tickColor": "#000000", "tickWidth": 2, "tickSize": 5, "labelColor": "#000000", "labelFont": "Liberation Sans", "labelFontSize": 12, "labelFontWeight": "bold", "titleColor": "#000000", "titleFont": "Liberation Sans", "titleFontWeight": "bold", "grid": false},
 "axisX": {"labelAngle": -40, "labelPadding": 3, "labelFontSize": 13, "titleFontSize": 15, "titleFontStyle": "italic", "titleAlign": "right", "titleBaseline": "alphabetic"},
 "axisY": {"titleFontSize": 13, "titlePadding": 8, "labelPadding": 2},
 "scale": {"bandPaddingInner": 0.3, "bandPaddingOuter": 0.2},
 "title": {"orient": "top", "anchor": "start", "frame": "group", "font": "Liberation Sans", "fontSize": 15, "fontWeight": "bold", "color": "#000000", "baseline": "alphabetic", "offset": 0}
}
}
